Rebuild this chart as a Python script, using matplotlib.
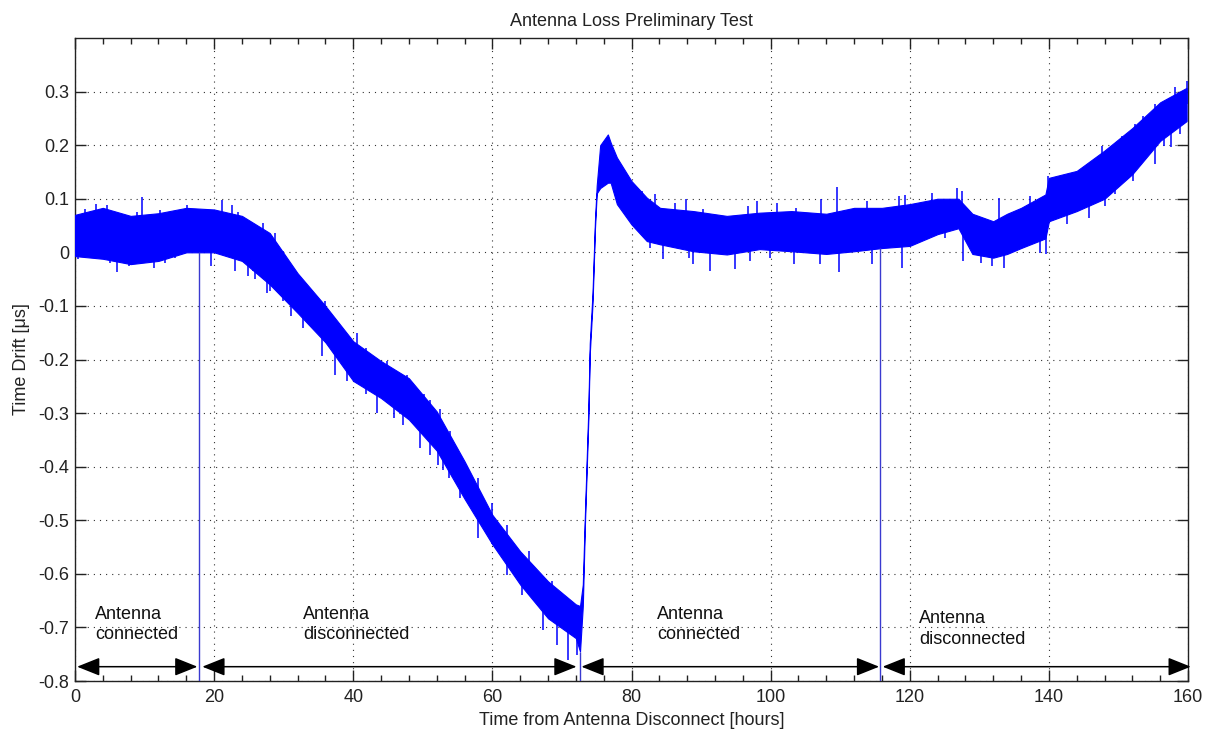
import numpy as np
import matplotlib
matplotlib.use("Agg")
import matplotlib.pyplot as plt

plt.rcParams['font.family'] = ['Liberation Sans', 'DejaVu Sans']

# ---- data (hours, microseconds) ----
env_hours = [0, 4, 8, 12, 16, 20, 24, 28, 32, 36, 40, 44, 48, 52, 56, 60, 64, 68, 72,
             72.6, 73.0, 73.3, 73.8, 74.0, 74.4, 74.75, 75.0, 75.5, 76.6, 77.0, 77.9,
             80, 82.2, 84.1, 88.9, 93.7, 98.4, 103, 108, 112, 116, 120, 124, 127, 129,
             132, 134, 136, 139.5, 140, 144, 148, 152, 156, 159.8]
env_upper = [0.07, 0.083, 0.068, 0.073, 0.083, 0.08, 0.068, 0.036, -0.039, -0.10, -0.166,
             -0.203, -0.235, -0.297, -0.39, -0.49, -0.558, -0.614, -0.657,
             -0.66, -0.62, -0.49, -0.29, -0.17, -0.075, 0.06, 0.125, 0.20, 0.22, 0.205, 0.177,
             0.133, 0.102, 0.083, 0.077, 0.068, 0.074, 0.077, 0.072, 0.083, 0.083, 0.09, 0.10,
             0.10, 0.072, 0.058, 0.072, 0.083, 0.108, 0.139, 0.152, 0.19, 0.232, 0.28, 0.307]
env_lower = [-0.007, -0.012, -0.022, -0.016, 0.0, 0.0, -0.016, -0.06, -0.113, -0.168, -0.24,
             -0.272, -0.312, -0.37, -0.46, -0.545, -0.62, -0.683, -0.72,
             -0.745, -0.66, -0.51, -0.31, -0.19, -0.095, 0.045, 0.11, 0.12, 0.13, 0.13, 0.09,
             0.052, 0.021, 0.015, 0.002, -0.004, 0.006, 0.002, -0.003, 0.002, 0.008, 0.012, 0.034,
             0.045, -0.003, -0.01, -0.003, 0.008, 0.026, 0.058, 0.077, 0.10, 0.146, 0.208, 0.245]

spike_hours = [0.5, 1.44, 1.9, 2.97, 4.65, 5.0, 6.0, 7.7, 8.86, 9.6, 9.8, 11.3, 12.2, 12.9,
               14.4, 16.05, 19.6, 21.1, 22.5, 23.0, 23.5, 24.9, 25.2, 25.6, 25.9, 27.0, 27.6,
               28.0, 28.8, 29.9, 29.9, 31.1, 32.8, 33.5, 35.5, 35.9, 37.4, 39.1, 40.5, 41.9,
               41.9, 43.4, 44.8, 45.8, 47.2, 47.7, 49.6, 50.1, 51.0, 51.0, 52.2, 52.5, 52.9,
               53.7, 53.9, 55.3, 58.0, 58.0, 59.9, 59.9, 62.1, 62.1, 64.2, 65.2, 67.3, 68.5,
               69.3, 70.9, 72.1,
               81.5, 82.7, 83.4, 84.6, 86.3, 87.9, 88.2, 88.9, 90.3, 91.3, 94.9, 96.8, 97.0,
               98.0, 99.9, 100.9, 103.3, 103.7, 107.1, 107.3, 109.5, 109.9, 113.8, 114.6,
               118.4, 118.9, 119.3, 123.2, 125.1, 126.8, 127.5, 127.7, 130.3, 131.8, 132.9,
               133.6, 137.3, 138.7, 139.6, 139.9, 142.6, 145.7, 147.6, 148.1, 149.5, 150.5,
               152.1, 152.4, 153.6, 155.3, 155.3, 156.5, 157.5, 158.1, 158.9, 159.8]
spike_values = [-0.013, 0.080, -0.009, 0.091, 0.088, -0.019, -0.036, -0.026, 0.076, 0.104,
                -0.011, -0.03, 0.079, -0.019, -0.011, 0.088, -0.025, 0.098, 0.088, -0.035,
                0.076, -0.044, 0.059, -0.035, -0.05, 0.055, -0.075, -0.072, 0.037, 0.002,
                -0.091, -0.119, -0.141, -0.069, -0.194, -0.091, -0.228, -0.24, -0.15, -0.178,
                -0.265, -0.30, -0.203, -0.309, -0.322, -0.228, -0.365, -0.265, -0.275, -0.378,
                -0.396, -0.293, -0.406, -0.421, -0.334, -0.459, -0.421, -0.533, -0.468,
                -0.545, -0.508, -0.602, -0.639, -0.558, -0.705, -0.614, -0.733, -0.76, -0.751,
                0.115, 0.009, 0.108, -0.013, 0.093, 0.10, -0.01, -0.022, 0.080, -0.035,
                -0.032, 0.087, -0.016, 0.095, -0.010, 0.093, -0.022, 0.083, -0.022, 0.099,
                0.122, -0.036, 0.096, -0.022, 0.105, -0.029, 0.107, 0.111, 0.027, 0.12, 0.114,
                -0.016, -0.019, -0.025, 0.102, -0.029, 0.105, -0.001, -0.003, 0.143, 0.052,
                0.065, 0.199, 0.087, 0.108, 0.217, 0.133, 0.239, 0.255, 0.164, 0.277, 0.199,
                0.196, 0.309, 0.22, 0.32]

glitch_hours = [17.8, 72.6, 115.7]
glitch_values = [-0.8, -0.8, -0.8]

period_start = [0.3, 18.3, 72.8, 116.1]
period_end = [17.6, 72.1, 115.6, 160.4]
period_labels = ['Antenna\nconnected', 'Antenna\ndisconnected',
                 'Antenna\nconnected', 'Antenna\ndisconnected']
label_hours = [2.88, 32.8, 83.7, 121.3]
label_values = [-0.695, -0.695, -0.695, -0.703]

x_ticks = [0, 20, 40, 60, 80, 100, 120, 140, 160]
y_ticks = [-0.8, -0.7, -0.6, -0.5, -0.4, -0.3, -0.2, -0.1, 0, 0.1, 0.2, 0.3]
y_ticklabels = ['-0.8', '-0.7', '-0.6', '-0.5', '-0.4', '-0.3', '-0.2', '-0.1', '0',
                '0.1', '0.2', '0.3']

# ---- figure ----
fig = plt.figure(figsize=(12.08, 7.32), dpi=100)
ax = fig.add_axes([75 / 1208, 1 - 681 / 732, (1188 - 75) / 1208, (681 - 38) / 732])

blue = '#0000ff'
eh = np.array(env_hours)
eu = np.array(env_upper)
el = np.array(env_lower)
ax.fill_between(eh, el, eu, color=blue, linewidth=0.8, edgecolor=blue, zorder=3)

mid = np.interp(spike_hours, eh, (eu + el) / 2)
ax.vlines(spike_hours, spike_values, mid, color=blue, linewidth=1.1, zorder=3)

gbase = np.interp(glitch_hours, eh, el)
ax.vlines(glitch_hours, glitch_values, gbase, color='#3a3ad0', linewidth=1.0, zorder=3)

for s, e in zip(period_start, period_end):
    ax.annotate('', xy=(e, -0.7733), xytext=(s, -0.7733),
                arrowprops=dict(arrowstyle='<|-|>,head_length=0.7,head_width=0.28',
                                color='black', lw=1.1, shrinkA=0, shrinkB=0,
                                mutation_scale=20),
                annotation_clip=False, zorder=4)

for lab, hx, vy in zip(period_labels, label_hours, label_values):
    ax.text(hx, vy, lab, fontsize=13, color='#111111', ha='left', va='center',
            linespacing=1.25, zorder=5)

ax.set_xlim(0, 160)
ax.set_ylim(-0.8, 0.4)
ax.set_xticks(x_ticks)
ax.set_xticklabels([str(t) for t in x_ticks])
ax.set_xticks(np.arange(0, 161, 4), minor=True)
ax.set_yticks(y_ticks)
ax.set_yticklabels(y_ticklabels)

ax.tick_params(which='both', direction='in', top=True, right=True, labelsize=13,
               colors='#222222', width=1.0)
ax.tick_params(which='major', length=8, pad=4)
ax.tick_params(axis='x', which='major', pad=6)
ax.tick_params(which='minor', length=4)
ax.grid(True, which='major', color='#333333', linestyle=(0, (1, 4.5)), linewidth=0.8)
ax.set_axisbelow(True)
for sp in ax.spines.values():
    sp.set_linewidth(1.0)
    sp.set_color('#222222')

ax.set_title('Antenna Loss Preliminary Test', fontsize=13, color='#222222', pad=9)
ax.set_xlabel('Time from Antenna Disconnect [hours]', fontsize=13, color='#222222',
              labelpad=4)
ax.set_ylabel('Time Drift [μs]', fontsize=13, color='#222222', labelpad=6)

fig.savefig('out.png', dpi=100, facecolor='white')
